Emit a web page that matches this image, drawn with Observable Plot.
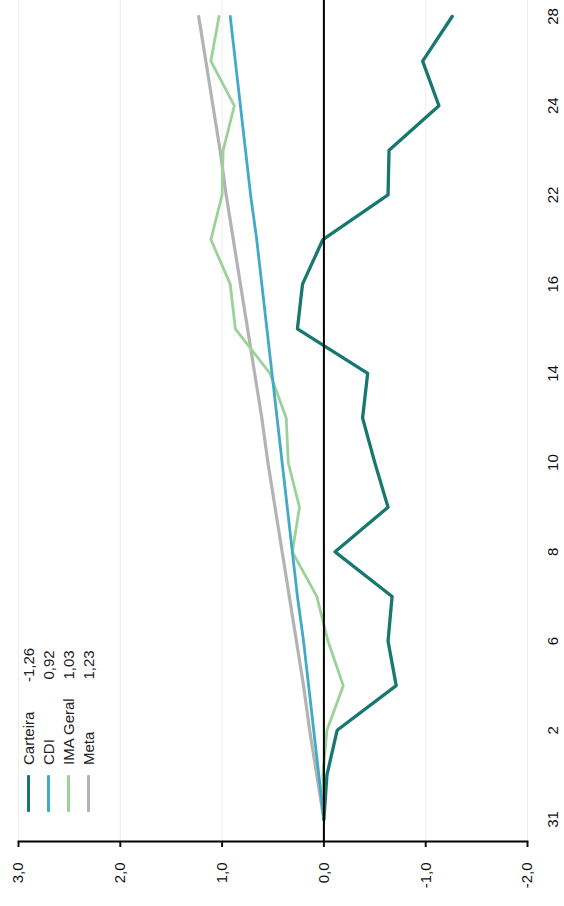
<!DOCTYPE html>
<html>
<head>
<meta charset="utf-8">
<script src="https://cdn.jsdelivr.net/npm/d3@7"></script>
<script src="https://cdn.jsdelivr.net/npm/@observablehq/plot@0.6"></script>
<style>
  html, body { margin: 0; padding: 0; background: #fff; overflow: hidden; }
  #page { width: 564px; height: 906px; position: relative; overflow: hidden; }
  #wrap { position: absolute; left: 0; top: 0; width: 906px; height: 564px;
          transform-origin: 0 0; transform: translate(0, 906px) rotate(-90deg); }
  #legend { position: absolute; left: 94px; top: 18px; font-family: "Liberation Sans", Arial, sans-serif;
            font-size: 15px; color: #222; }
  .row { display: flex; align-items: center; height: 20px; }
  .sw { width: 37px; height: 3px; margin-right: 10px; border-radius: 1px; }
  .lab { width: 70px; white-space: nowrap; }
  .val { width: 60px; text-align: center; }
</style>
</head>
<body>
<div id="page"><div id="wrap"><div id="chart"></div><div id="legend"></div></div></div>
<script>
// Dates (business days) along the horizontal axis of the unrotated chart
const dates = ["31","1","2","5","6","7","8","9","10","13","14","15","16","21","22","23","24","27","28"];
// Accumulated returns (%)
const carteira = [0.00,-0.03,-0.13,-0.71,-0.63,-0.67,-0.11,-0.63,-0.50,-0.38,-0.43,0.26,0.21,0.01,-0.63,-0.64,-1.13,-0.97,-1.26];
const cdi      = [0.00,0.05,0.10,0.15,0.20,0.26,0.31,0.36,0.41,0.46,0.51,0.56,0.61,0.66,0.72,0.77,0.82,0.87,0.92];
const imaGeral = [0.00,0.01,-0.03,-0.19,-0.04,0.07,0.31,0.24,0.35,0.37,0.53,0.87,0.92,1.11,1.00,0.99,0.88,1.11,1.03];
const meta     = [0.00,0.07,0.14,0.20,0.27,0.34,0.41,0.48,0.55,0.61,0.68,0.75,0.82,0.89,0.96,1.02,1.09,1.16,1.23];
const seriesNames = ["Carteira","CDI","IMA Geral","Meta"];
const seriesColors = ["#17786f","#42a9c6","#9ad298","#b3b3b3"];
const yTicks = [-2,-1,0,1,2,3];

const toRows = arr => arr.map((v, i) => ({i, v}));
const fmt = v => v.toFixed(2).replace(".", ",");

const chart = Plot.plot({
  width: 906, height: 564,
  marginLeft: 64, marginRight: 0, marginTop: 18, marginBottom: 37,
  style: {fontFamily: "Liberation Sans, Arial, sans-serif", fontSize: "15px", color: "#111", background: "#fff"},
  x: {domain: [0, dates.length - 1], range: [86, 889], label: null},
  y: {domain: [-2, 3], label: null},
  marks: [
    Plot.ruleY(yTicks, {stroke: "#ededed", strokeWidth: 1}),
    Plot.line(toRows(meta), {x: "i", y: "v", stroke: seriesColors[3], strokeWidth: 3.2}),
    Plot.line(toRows(imaGeral), {x: "i", y: "v", stroke: seriesColors[2], strokeWidth: 2.8}),
    Plot.line(toRows(cdi), {x: "i", y: "v", stroke: seriesColors[1], strokeWidth: 2.8}),
    Plot.line(toRows(carteira), {x: "i", y: "v", stroke: seriesColors[0], strokeWidth: 3.3}),
    Plot.ruleY([0], {stroke: "#000", strokeWidth: 2}),
    Plot.frame({anchor: "left", stroke: "#000", strokeWidth: 2}),
    Plot.axisY({ticks: yTicks, tickSize: 5, tickPadding: 16, strokeWidth: 2, label: null,
                tickFormat: d => d.toFixed(1).replace(".", ","), fontSize: 15}),
    Plot.axisX({ticks: dates.map((d, i) => i).filter(i => i % 2 === 0), label: null,
                tickFormat: i => dates[i], tickSize: 0, tickPadding: 20, fontSize: 15})
  ]
});
document.getElementById("chart").appendChild(chart);

const finals = [carteira, cdi, imaGeral, meta].map(a => a[a.length - 1]);
const legend = d3.select("#legend");
seriesNames.forEach((name, k) => {
  const row = legend.append("div").attr("class", "row");
  row.append("div").attr("class", "sw").style("background", seriesColors[k]);
  row.append("div").attr("class", "lab").text(name);
  row.append("div").attr("class", "val").text(fmt(finals[k]));
});
</script>
</body>
</html>
